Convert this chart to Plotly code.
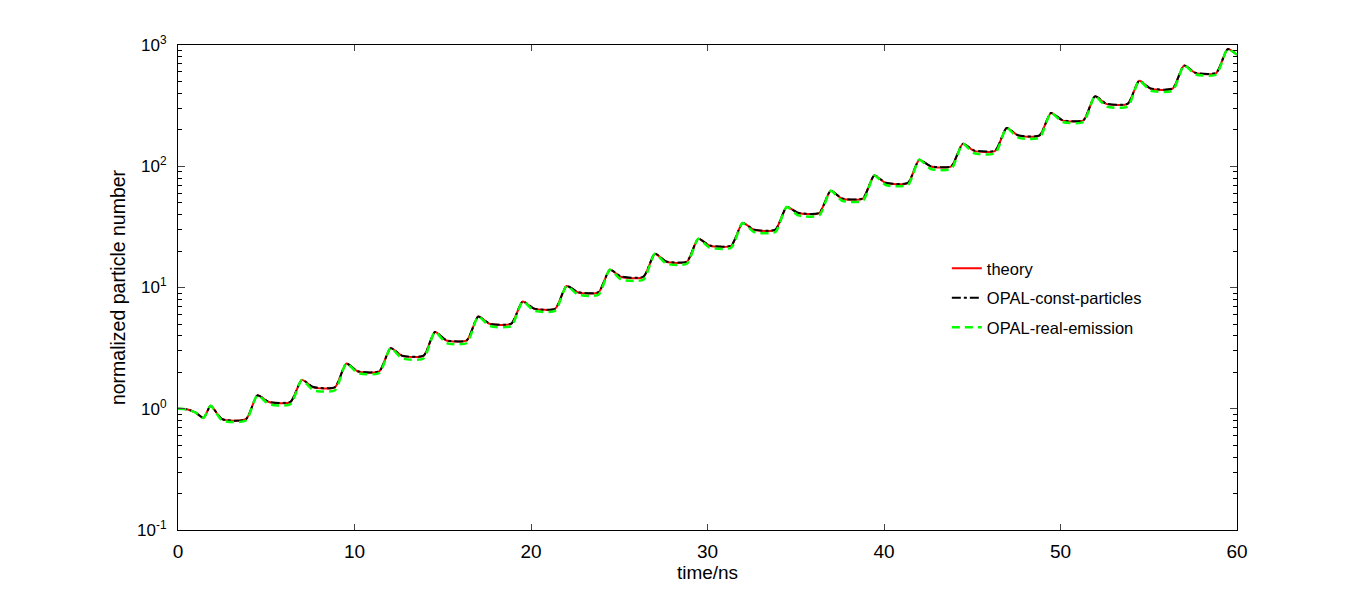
import plotly.graph_objects as go

# ---- data ----
start_t = [0.0, 0.5, 1.0, 1.45]
start_n = [1.0, 0.99, 0.93, 0.84]

peak_t = [1.85, 4.50, 7.02, 9.54, 12.05, 14.56, 17.01, 19.53, 22.02, 24.47, 27.02, 29.48,
          31.99, 34.49, 36.98, 39.45, 42.00, 44.46, 46.95, 49.46, 51.95, 54.46, 57.00, 59.47]
peak_n = [1.06, 1.29, 1.73, 2.36, 3.16, 4.29, 5.77, 7.67, 10.3, 14.0, 19.0, 25.2,
          34.0, 46.1, 62.8, 84.0, 113, 153, 207, 275, 377, 507, 678, 925]
plateau_theory = [0.82, 1.135, 1.50, 2.03, 2.73, 3.66, 5.02, 6.68, 9.1, 12.2, 16.3, 22.1,
                  29.9, 41.1, 54.0, 72.7, 99.7, 134, 179, 239, 327, 436, 587]
plateau_const = [0.82, 1.14, 1.51, 2.04, 2.74, 3.67, 5.03, 6.70, 9.15, 12.3, 16.4, 22.2,
                 30.0, 41.3, 54.3, 73.0, 100, 135, 180, 240, 328, 438, 590]
plateau_real = [0.80, 1.09, 1.42, 1.97, 2.60, 3.48, 4.81, 6.43, 8.71, 11.6, 15.7, 21.3,
                28.7, 39.3, 51.9, 70.0, 95.0, 128, 172, 232, 311, 420, 571]
end_t = 60.0
end_n = 830

x_ticks = [0, 10, 20, 30, 40, 50, 60]
y_ticks = [0.1, 1, 10, 100, 1000]
y_ticktext = ["10<sup>-1</sup>", "10<sup>0</sup>", "10<sup>1</sup>", "10<sup>2</sup>", "10<sup>3</sup>"]
y_minor_ticks = [0.2, 0.3, 0.4, 0.5, 0.6, 0.7, 0.8, 0.9,
                 2, 3, 4, 5, 6, 7, 8, 9,
                 20, 30, 40, 50, 60, 70, 80, 90,
                 200, 300, 400, 500, 600, 700, 800, 900]


def build(plateaus):
    ts = list(start_t)
    ns = list(start_n)
    for i, (tp, pn) in enumerate(zip(peak_t, peak_n)):
        ts.append(tp)
        ns.append(pn)
        if i < len(plateaus):
            nxt = peak_t[i + 1]
            ts += [tp + 0.65, nxt - 0.65]
            ns += [plateaus[i], plateaus[i]]
    ts.append(end_t)
    ns.append(end_n)
    return ts, ns


fig = go.Figure()
for name, plat, color, dash, width in [
    ("theory", plateau_theory, "#ff0000", "solid", 2),
    ("OPAL-const-particles", plateau_const, "#000000", "dashdot", 2),
    ("OPAL-real-emission", plateau_real, "#00ff00", "8px,5px", 2.5),
]:
    t, n = build(plat)
    fig.add_trace(go.Scatter(x=t, y=n, mode="lines", name=name, legendgroup=name,
                             line=dict(color=color, dash=dash, width=width,
                                       shape="spline", smoothing=0.6)))

font = "Liberation Sans, Arial, sans-serif"
narrow = "Liberation Sans Narrow, Arial Narrow, Liberation Sans, sans-serif"
fig.update_layout(
    width=1366, height=594,
    margin=dict(l=170, r=137, t=37, b=72),
    paper_bgcolor="white", plot_bgcolor="white",
    font=dict(family=font, size=16, color="black"),
    showlegend=True,
    legend=dict(x=0.726, y=0.575, xanchor="left", yanchor="top",
                bgcolor="rgba(0,0,0,0)", font=dict(size=16.5), tracegroupgap=5,
                traceorder="grouped"),
    xaxis=dict(range=[0, 60], tickvals=x_ticks, ticks="inside", ticklen=6,
               showline=True, linecolor="black", linewidth=1, mirror="ticks",
               showgrid=False, zeroline=False,
               tickfont=dict(family=narrow, size=19), ticklabelstandoff=4,
               title=dict(text="time/ns", font=dict(family=narrow, size=19), standoff=4)),
    yaxis=dict(type="log", range=[-1, 3], tickvals=y_ticks, ticktext=y_ticktext,
               ticks="inside", ticklen=7, showline=True, linecolor="black",
               linewidth=1, mirror="ticks", showgrid=False, zeroline=False,
               tickfont=dict(size=17), ticklabelstandoff=7,
               minor=dict(tickvals=y_minor_ticks, ticks="inside", ticklen=4,
                          tickcolor="black", showgrid=False),
               title=dict(text="normalized particle number", font=dict(size=19.5), standoff=6)),
)
fig.write_html("out.html")
